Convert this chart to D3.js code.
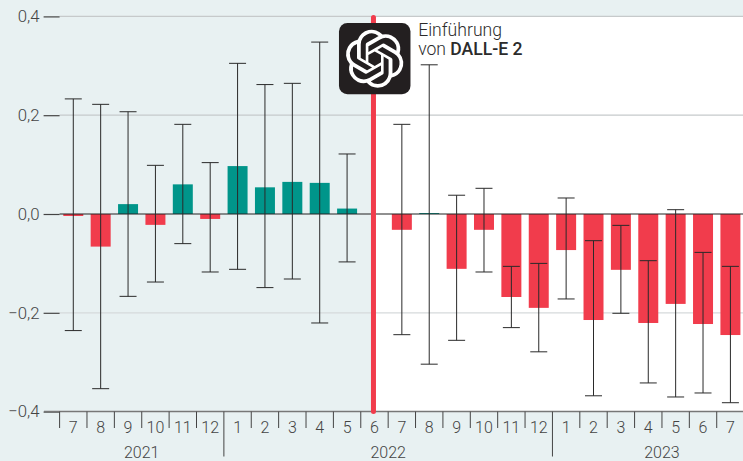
<!DOCTYPE html>
<html><head><meta charset="utf-8">
<script src="https://cdn.jsdelivr.net/npm/d3@7/dist/d3.min.js"></script>
<style>html,body{margin:0;padding:0;background:#e8f1f2}svg{display:block}text{font-family:Roboto,sans-serif}</style>
</head><body><svg id="c" width="743" height="461"></svg>
<script>
const months=["7","8","9","10","11","12","1","2","3","4","5","6","7","8","9","10","11","12","1","2","3","4","5","6","7"];
const years=["2021","2021","2021","2021","2021","2021","2022","2022","2022","2022","2022","2022","2022","2022","2022","2022","2022","2022","2023","2023","2023","2023","2023","2023","2023"];
const values=[-0.004,-0.066,0.02,-0.022,0.06,-0.01,0.097,0.054,0.065,0.063,0.011,null,-0.032,0.002,-0.111,-0.032,-0.168,-0.19,-0.073,-0.2146,-0.113,-0.2206,-0.182,-0.2227,-0.245];
const upper=[0.233,0.222,0.207,0.0985,0.1815,0.104,0.305,0.262,0.2645,0.348,0.1215,null,0.1815,0.302,0.038,0.052,-0.106,-0.1,0.0324,-0.054,-0.023,-0.0945,0.0087,-0.0777,-0.106];
const lower=[-0.236,-0.3536,-0.1667,-0.1377,-0.06,-0.1174,-0.112,-0.149,-0.1316,-0.2206,-0.097,null,-0.2443,-0.304,-0.2557,-0.1174,-0.23,-0.279,-0.172,-0.368,-0.201,-0.342,-0.3704,-0.3623,-0.382];
const yTicks=[-0.4,-0.2,0,0.2,0.4];
const yearLabels=["2021","2022","2023"];
const yearAnchors=[3,12,22];
const eventIndex=11;
const logoPath="M22.2819 9.8211a5.9847 5.9847 0 0 0-.5157-4.9108 6.0462 6.0462 0 0 0-6.5098-2.9A6.0651 6.0651 0 0 0 4.9807 4.1818a5.9847 5.9847 0 0 0-3.9977 2.9 6.0462 6.0462 0 0 0 .7427 7.0966 5.98 5.98 0 0 0 .511 4.9107 6.051 6.051 0 0 0 6.5146 2.9001A5.9847 5.9847 0 0 0 13.2599 24a6.0557 6.0557 0 0 0 5.7718-4.2058 5.9894 5.9894 0 0 0 3.9977-2.9001 6.0557 6.0557 0 0 0-.7475-7.0729zm-9.022 12.6081a4.4755 4.4755 0 0 1-2.8764-1.0408l.1419-.0804 4.7783-2.7582a.7948.7948 0 0 0 .3927-.6813v-6.7369l2.02 1.1686a.071.071 0 0 1 .038.052v5.5826a4.504 4.504 0 0 1-4.4945 4.4944zm-9.6607-4.1254a4.4708 4.4708 0 0 1-.5346-3.0137l.142.0852 4.783 2.7582a.7712.7712 0 0 0 .7806 0l5.8428-3.3685v2.3324a.0804.0804 0 0 1-.0332.0615L9.74 19.9502a4.4992 4.4992 0 0 1-6.1408-1.6464zM2.3408 7.8956a4.485 4.485 0 0 1 2.3655-1.9728V11.6a.7664.7664 0 0 0 .3879.6765l5.8144 3.3543-2.0201 1.1685a.0757.0757 0 0 1-.071 0l-4.8303-2.7865A4.504 4.504 0 0 1 2.3408 7.872zm16.5963 3.8558L13.1038 8.364 15.1192 7.2a.0757.0757 0 0 1 .071 0l4.8303 2.7913a4.4944 4.4944 0 0 1-.6765 8.1042v-5.6772a.79.79 0 0 0-.407-.667zm2.0107-3.0231l-.142-.0852-4.7735-2.7818a.7759.7759 0 0 0-.7854 0L9.409 9.2297V6.8974a.0662.0662 0 0 1 .0284-.0615l4.8303-2.7866a4.4992 4.4992 0 0 1 6.6802 4.66zM8.3065 12.863l-2.02-1.1638a.0804.0804 0 0 1-.038-.0567V6.0742a4.4992 4.4992 0 0 1 7.3757-3.4537l-.142.0805L8.704 5.459a.7948.7948 0 0 0-.3927.6813zm1.0976-2.3654l2.602-1.4998 2.6069 1.4998v2.9994l-2.5974 1.4997-2.6067-1.4997Z";

const W=743,H=461,L=59.6,T=16.4,B=411.6;
const svg=d3.select("#c");
const idx=d3.range(months.length);
const x=d3.scaleBand().domain(idx).range([L,L+25*27.38]).paddingInner(0.27).paddingOuter(0.135);
const y=d3.scaleLinear().domain([-0.4,0.4]).range([B,T]);
const tickX=i=>x(i)-x.step()*0.27/2;
const fmt=v=>(v<0?"\u2212":"")+Math.abs(v).toFixed(1).replace(".",",");
const cx=i=>x(i)+x.bandwidth()/2;
const ex=cx(eventIndex)-1;

svg.append("rect").attr("x",ex).attr("y",T).attr("width",W-ex).attr("height",B-T).attr("fill","#fff");

// grid
svg.append("g").selectAll("line").data(yTicks.filter(v=>v!==0&&v!==-0.4)).join("line")
 .attr("x1",L).attr("x2",W).attr("y1",d=>y(d)).attr("y2",d=>y(d))
 .attr("stroke",d=>d===-0.2?"#d6dadb":"#c6cacb").attr("stroke-width",1.2);

// bars
svg.append("g").selectAll("rect").data(idx.filter(i=>values[i]!==null)).join("rect")
 .attr("x",i=>x(i)).attr("width",x.bandwidth())
 .attr("y",i=>y(Math.max(0,values[i]))).attr("height",i=>Math.abs(y(values[i])-y(0)))
 .attr("fill",i=>values[i]>=0?"#00958a":"#f13c4c");

// axes
const ya=d3.axisLeft(y).tickValues(yTicks).tickFormat(fmt).tickSize(16).tickPadding(4);
const gy=svg.append("g").attr("transform",`translate(${L},0)`).call(ya);
gy.select(".domain").remove();
gy.selectAll("line").attr("stroke","#444").attr("stroke-width",1.2);
gy.selectAll("text").attr("fill","#444").style("font-size","16.8px").style("font-family","Roboto").attr("font-weight",300);

svg.append("line").attr("x1",44).attr("x2",W).attr("y1",y(-0.4)).attr("y2",y(-0.4)).attr("stroke","#777").attr("stroke-width",1.5);
svg.append("line").attr("x1",L).attr("x2",W).attr("y1",y(0)).attr("y2",y(0)).attr("stroke","#222").attr("stroke-width",1.1);

// whiskers
const wg=svg.append("g").attr("stroke","#2a2a2a").attr("stroke-width",1);
const wi=idx.filter(i=>upper[i]!==null);
wg.selectAll(".v").data(wi).join("line").attr("x1",cx).attr("x2",cx).attr("y1",i=>y(upper[i])).attr("y2",i=>y(lower[i]));
wg.selectAll(".t").data(wi).join("line").attr("x1",i=>cx(i)-8.5).attr("x2",i=>cx(i)+8.5).attr("y1",i=>y(upper[i])).attr("y2",i=>y(upper[i]));
wg.selectAll(".b").data(wi).join("line").attr("x1",i=>cx(i)-8.5).attr("x2",i=>cx(i)+8.5).attr("y1",i=>y(lower[i])).attr("y2",i=>y(lower[i]));

// month ticks and labels
const tg=svg.append("g");
tg.selectAll("line").data(idx).join("line")
 .attr("x1",tickX).attr("x2",tickX).attr("y1",B)
 .attr("y2",i=>i>0&&years[i]!==years[i-1]?456.5:428)
 .attr("stroke","#444").attr("stroke-width",1);
svg.append("g").selectAll("text").data(idx).join("text")
 .attr("x",cx).attr("y",432.5).attr("text-anchor","middle").attr("fill","#444").attr("font-weight",300).style("font-size","16px")
 .text(i=>months[i]);
svg.append("g").selectAll("text").data(yearLabels).join("text")
 .attr("x",(d,k)=>tickX(yearAnchors[k])).attr("y",457.5).attr("text-anchor","middle").attr("fill","#444").attr("font-weight",300).style("font-size","16px")
 .text(d=>d);

// event line
svg.append("line").attr("x1",ex).attr("x2",ex).attr("y1",y(0.4)+1).attr("y2",y(-0.4)).attr("stroke","#f13c4c").attr("stroke-width",5).attr("stroke-linecap","round");

// logo
const lg=svg.append("g");
lg.append("rect").attr("x",ex-34.5).attr("y",23).attr("width",71.5).attr("height",71.3).attr("rx",8.5).attr("fill","#231f20");
lg.append("path").attr("d",logoPath).attr("fill","#fff").attr("transform",`translate(${ex+1.2-12*2.42},${58.7-12*2.42}) scale(2.42)`);

// annotation
svg.append("text").attr("x",ex+44.7).attr("y",35.5).attr("fill","#2b2b2b").attr("font-weight",300).style("font-size","17.6px").text("Einführung");
const t2=svg.append("text").attr("x",ex+44.7).attr("y",54.5).attr("fill","#2b2b2b").attr("font-weight",300).style("font-size","17.6px");
t2.append("tspan").text("von ");
t2.append("tspan").attr("font-weight",500).text("DALL-E 2");
</script></body></html>
